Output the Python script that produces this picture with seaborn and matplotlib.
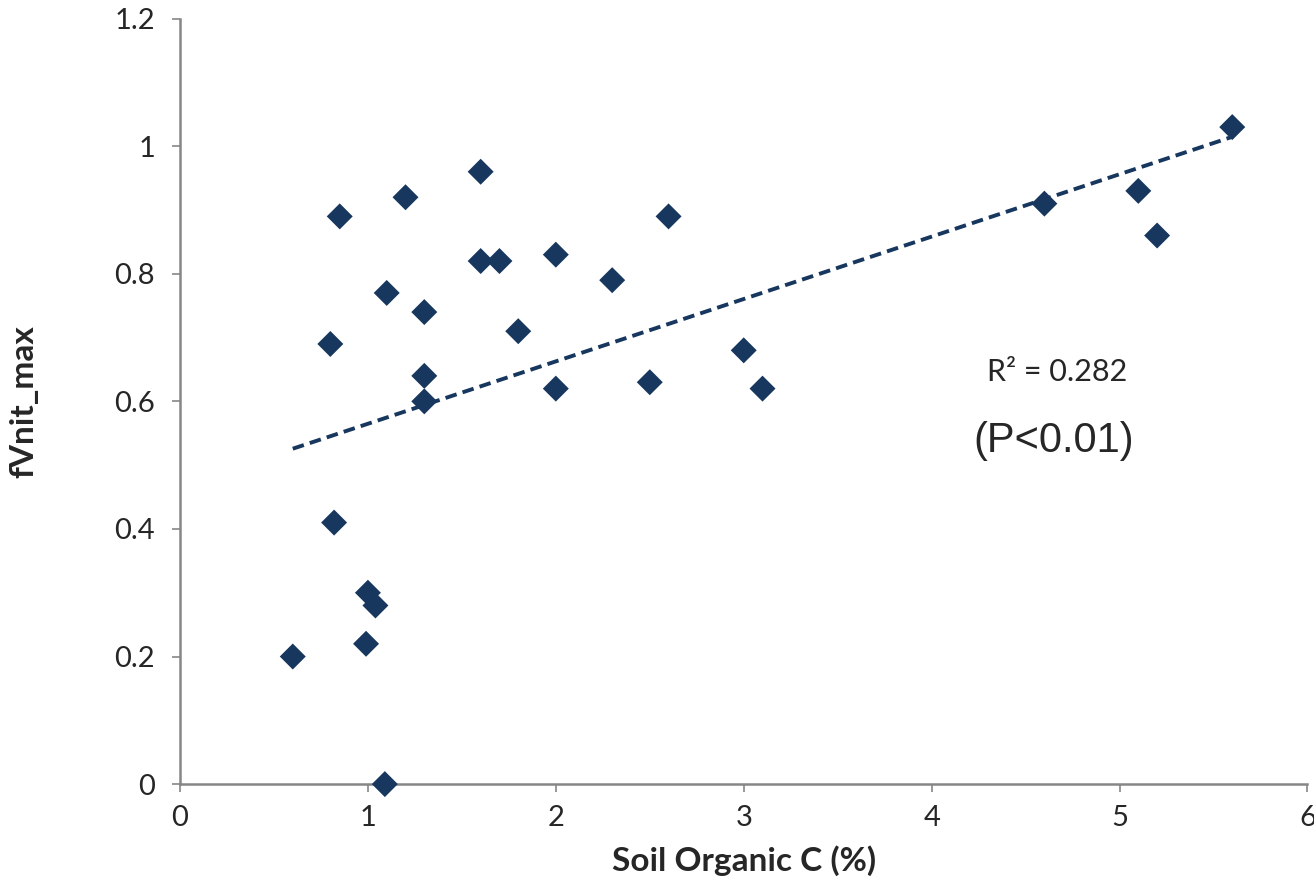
import numpy as np
import pandas as pd
import matplotlib
matplotlib.use('Agg')
import matplotlib.pyplot as plt
import seaborn as sns

# soil organic C (%) and fVnit_max
soil_c = [0.6, 0.85, 0.8, 0.82, 1.0, 1.04, 0.99, 1.09, 1.1, 1.2, 1.3, 1.3, 1.3,
          1.6, 1.6, 1.7, 1.8, 2.0, 2.0, 2.3, 2.5, 2.6, 3.0, 3.1, 4.6, 5.1, 5.2, 5.6]
fvnit = [0.20, 0.89, 0.69, 0.41, 0.30, 0.28, 0.22, 0.00, 0.77, 0.92, 0.74, 0.64, 0.60,
         0.96, 0.82, 0.82, 0.71, 0.83, 0.62, 0.79, 0.63, 0.89, 0.68, 0.62, 0.91, 0.93, 0.86, 1.03]

x_ticks = [0, 1, 2, 3, 4, 5, 6]
y_ticks = [0, 0.2, 0.4, 0.6, 0.8, 1, 1.2]
y_tick_labels = ['0', '0.2', '0.4', '0.6', '0.8', '1', '1.2']

df = pd.DataFrame({'soil_c': soil_c, 'fvnit': fvnit})

sns.set_style('white')
plt.rcParams['font.family'] = ['Lato', 'DejaVu Sans']

navy = '#17375E'
grey = '#868686'

fig = plt.figure(figsize=(13.14, 8.88), dpi=100)
ax = fig.add_axes([0.137, 0.117, 0.858, 0.862])

# linear trendline, drawn under the markers
sns.regplot(data=df, x='soil_c', y='fvnit', ax=ax, scatter=False, ci=None, truncate=True,
            line_kws={'color': navy, 'lw': 2.8, 'dashes': (3, 1.6), 'zorder': 2})
sns.scatterplot(data=df, x='soil_c', y='fvnit', ax=ax, marker='D', s=175,
                color=navy, edgecolor='none', zorder=3, clip_on=False)

ax.set_xlim(0, 6)
ax.set_ylim(0, 1.2)
ax.set_xticks(x_ticks)
ax.set_yticks(y_ticks)
ax.set_yticklabels(y_tick_labels)
ax.tick_params(axis='both', labelsize=21, length=6, width=1.2, color=grey,
               direction='out', bottom=True, left=True)
ax.tick_params(axis='x', pad=9)
ax.tick_params(axis='y', pad=12)

sns.despine(ax=ax)
for side in ['left', 'bottom']:
    ax.spines[side].set_color(grey)
    ax.spines[side].set_linewidth(1.8)

ax.set_xlabel('Soil Organic C (%)', fontsize=24, fontweight='bold', labelpad=10)
ax.set_ylabel('fVnit_max', fontsize=24, fontweight='bold', labelpad=55)

ax.text(4.67, 0.646, 'R² = 0.282', fontsize=22, ha='center', va='center')
ax.text(4.65, 0.538, '(P<0.01)', fontsize=30, ha='center', va='center',
        family=['Liberation Sans', 'DejaVu Sans'])

fig.savefig('out.png', dpi=100)
